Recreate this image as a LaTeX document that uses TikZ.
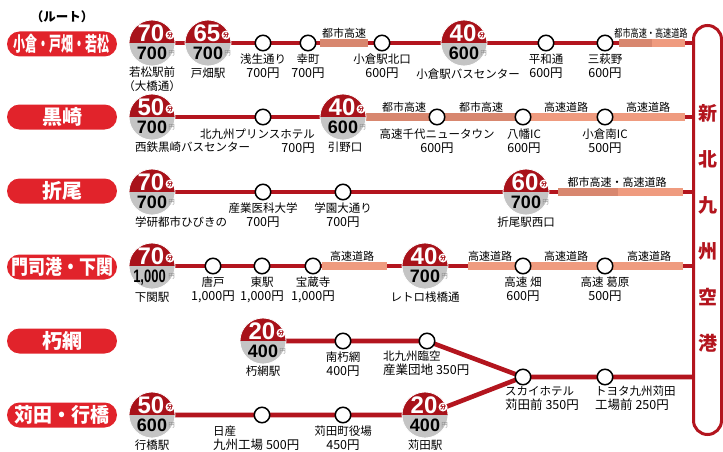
\documentclass[tikz,border=0pt]{standalone}
\usepackage{fontspec}
\setmainfont{Liberation Sans}
\newfontfamily\jp{Noto Sans CJK JP}
\newfontfamily\numf{Liberation Sans}
\usetikzlibrary{calc}
\definecolor{rline}{HTML}{B3151E}
\definecolor{pillred}{HTML}{E1232B}
\definecolor{btop}{HTML}{A8121A}
\definecolor{bgray}{HTML}{C4C4C4}
\definecolor{hwa}{HTML}{D8876F}
\definecolor{hwb}{HTML}{EF9B7F}
\pgfdeclarelayer{bg}
\pgfsetlayers{bg,main}
\tikzset{
 route/.style={rline, line width=4.6pt, line join=round},
 hwA/.style={hwa, line width=7.5pt},
 hwB/.style={hwb, line width=7.5pt},
 stn/.style={circle, draw=black, fill=white, line width=1.5pt, minimum size=15.5pt, inner sep=0pt},
 lbl/.style={font=\jp\fontsize{11.5}{13}\selectfont, text=black, inner sep=0pt, text height=9.5pt, text depth=2pt},
 lblb/.style={font=\jp\fontsize{12.5}{13}\selectfont, text=black, inner sep=0pt, text height=9.5pt, text depth=2pt},
 hwl/.style={font=\jp\fontsize{11}{12}\selectfont, text=black, inner sep=0pt},
 pill/.style={fill=pillred, rounded corners=12.5pt, minimum width=110pt, minimum height=25pt, inner sep=0pt, text=white, font=\jp\bfseries\fontsize{20}{20}\selectfont},
 badge/.style={circle, minimum size=46pt, inner sep=0pt, fill=bgray, draw=white, line width=0.8pt,
   path picture={\fill[btop] (path picture bounding box.west) rectangle (path picture bounding box.north east);}},
 btime/.style={font=\numf\bfseries\fontsize{24}{24}\selectfont, text=white, inner sep=0pt},
 bfare/.style={font=\numf\bfseries\fontsize{18}{18}\selectfont, text=black, inner sep=0pt},
 bfun/.style={circle, fill=white, inner sep=0pt, minimum size=9pt, font=\jp\bfseries\fontsize{6}{6}\selectfont, text=btop},
 byen/.style={font=\jp\fontsize{6.5}{6.5}\selectfont, text=black!45, inner sep=0pt},
 aptbox/.style={draw=rline, line width=3pt, fill=white, rounded corners=14pt, minimum width=28pt, minimum height=409pt, inner sep=0pt},
 aptc/.style={font=\jp\bfseries\fontsize{19}{19}\selectfont, text=rline, inner sep=0pt},
}
\newcommand\bdg[7]{%
 \node[badge] (#1) at (#2) {};
 \node[btime] (#1t) at ([xshift=-1pt,yshift=10pt]#1.center) {#3};
 \node[bfun] (#1m) at ([xshift=18pt,yshift=8pt]#1.center) {分};
 \node[bfare] (#1f) at ([xshift=#6,yshift=#7]#1.center) {\scalebox{#5}[1]{#4}};
 \node[byen] (#1y) at ([xshift=19.5pt,yshift=-10pt]#1.center) {円};
}
\newcommand\twol[6]{%
 \node[lbl, anchor=#2] (#1a) at (#3,#4) {#5};
 \node[lblb, anchor=#2] (#1b) at (#3,#4+13.5) {#6};
}
\begin{document}
\begin{tikzpicture}[x=1pt,y=-1pt]
\useasboundingbox (0,0) rectangle (723,452);

% airport capsule
\node[aptbox] (apt) at (707.5,230) {};
\node[aptc] (ap1) at (708,113) {新};
\node[aptc] (ap2) at (708,159) {北};
\node[aptc] (ap3) at (708,205) {九};
\node[aptc] (ap4) at (708,251) {州};
\node[aptc] (ap5) at (708,297) {空};
\node[aptc] (ap6) at (708,343) {港};

% route pills
\node[font=\jp\bfseries\fontsize{12.5}{12.5}\selectfont, inner sep=0pt] (rt) at (62,17) {（ルート）};
\node[pill] (p1) at (62,44) {\scalebox{0.6}[1]{小倉・戸畑・若松}};
\node[pill] (p2) at (62,117) {黒崎};
\node[pill] (p3) at (62,191) {折尾};
\node[pill] (p4) at (62,267) {\scalebox{0.85}[1]{門司港・下関}};
\node[pill] (p5) at (62,341) {朽網};
\node[pill] (p6) at (62,415) {\scalebox{0.95}[1]{苅田・行橋}};

% ---------- Row 1 ----------
\bdg{r1a}{152,43}{70}{700}{1}{0pt}{-10pt}
\bdg{r1b}{208,43}{65}{700}{1}{0pt}{-10pt}
\node[stn] (r1c) at (263,43) {};
\node[stn] (r1d) at (308,43) {};
\node[stn] (r1e) at (382,43) {};
\bdg{r1f}{464,43}{40}{600}{1}{0pt}{-10pt}
\node[stn] (r1g) at (546,43) {};
\node[stn] (r1h) at (605,43) {};
\coordinate (r1end) at (apt.west |- r1a.center);
\coordinate (h1a) at (320,43);
\coordinate (h1b) at (368,43);
\coordinate (h1c) at (619,43);
\coordinate (h1d) at (652,43);
\coordinate (h1e) at (685,43);
\twol{l1c}{center}{263}{60}{浅生通り}{700円}
\twol{l1d}{center}{308}{60}{幸町}{700円}
\twol{l1e}{center}{382}{60}{小倉駅北口}{600円}
\twol{l1g}{center}{546}{60}{平和通}{600円}
\twol{l1h}{center}{605}{60}{三萩野}{600円}
\node[lbl] (l1aa) at (152,73) {若松駅前};
\node[lbl] (l1ab) at (152,86.5) {（大橋通）};
\node[lbl] (l1b) at (208,74) {戸畑駅};
\node[lbl] (l1f) at (468,75) {小倉駅バスセンター};
\node[hwl] (h1l1) at (344,33) {都市高速};
\node[hwl] (h1l2) at (651,33) {\scalebox{0.74}[1]{都市高速・高速道路}};

% ---------- Row 2 ----------
\bdg{r2a}{152,117}{50}{700}{1}{0pt}{-10pt}
\node[stn] (r2b) at (263,117) {};
\bdg{r2c}{343,117}{40}{600}{1}{0pt}{-10pt}
\node[stn] (r2d) at (437,117) {};
\node[stn] (r2e) at (523,117) {};
\node[stn] (r2f) at (605,117) {};
\coordinate (r2end) at (apt.west |- r2a.center);
\coordinate (h2e) at (685,117);
\node[lbl, anchor=west] (l2a) at (135,148) {西鉄黒崎バスセンター};
\twol{l2b}{east}{315}{135}{北九州プリンスホテル}{700円}
\node[lbl] (l2c) at (345,148) {引野口};
\twol{l2d}{center}{437}{135}{高速千代ニュータウン}{600円}
\twol{l2e}{center}{524}{135}{八幡IC}{600円}
\twol{l2f}{center}{605}{135}{小倉南IC}{500円}
\node[hwl] (h2l1) at (404,107) {都市高速};
\node[hwl] (h2l2) at (481,107) {都市高速};
\node[hwl] (h2l3) at (566,107) {高速道路};
\node[hwl] (h2l4) at (648,107) {高速道路};

% ---------- Row 3 ----------
\bdg{r3a}{152,192}{70}{700}{1}{0pt}{-10pt}
\node[stn] (r3b) at (263,192) {};
\node[stn] (r3c) at (343,192) {};
\bdg{r3d}{526,192}{60}{700}{1}{0pt}{-10pt}
\coordinate (r3end) at (apt.west |- r3a.center);
\coordinate (h3a) at (558,192);
\coordinate (h3b) at (618,192);
\coordinate (h3c) at (683,192);
\node[lbl, anchor=west] (l3a) at (135,223) {学研都市ひびきの};
\twol{l3b}{center}{263}{209}{産業医科大学}{700円}
\twol{l3c}{center}{343}{209}{学園大通り}{700円}
\node[lbl] (l3d) at (526,223) {折尾駅西口};
\node[hwl] (h3l1) at (617,182) {都市高速・高速道路};

% ---------- Row 4 ----------
\bdg{r4a}{152,266}{70}{1,000}{0.72}{-2.5pt}{-12pt}
\node[stn] (r4b) at (213,266) {};
\node[stn] (r4c) at (262,266) {};
\node[stn] (r4d) at (313,266) {};
\bdg{r4e}{425,266}{40}{700}{1}{0pt}{-10pt}
\node[stn] (r4f) at (523,266) {};
\node[stn] (r4g) at (605,266) {};
\coordinate (r4end) at (apt.west |- r4a.center);
\coordinate (h4a) at (322,266);
\coordinate (h4b) at (387,266);
\coordinate (h4c) at (468,266);
\coordinate (h4d) at (683,266);
\node[lbl] (l4a) at (152,298) {下関駅};
\twol{l4b}{center}{213}{283}{唐戸}{1,000円}
\twol{l4c}{center}{262}{283}{東駅}{1,000円}
\twol{l4d}{center}{313}{283}{宝蔵寺}{1,000円}
\node[lbl] (l4e) at (425,298) {レトロ桟橋通};
\twol{l4f}{center}{523}{283}{高速 畑}{600円}
\twol{l4g}{center}{605}{283}{高速 葛原}{500円}
\node[hwl] (h4l1) at (352,256) {高速道路};
\node[hwl] (h4l2) at (490,256) {高速道路};
\node[hwl] (h4l3) at (566,256) {高速道路};
\node[hwl] (h4l4) at (649,256) {高速道路};

% ---------- Row 5 ----------
\bdg{r5a}{263,341}{20}{400}{1}{0pt}{-10pt}
\node[stn] (r5b) at (343,341) {};
\node[stn] (r5c) at (427,341) {};
\node[stn] (sky) at (523,377) {};
\node[stn] (toy) at (605,377) {};
\coordinate (r5end) at (apt.west |- sky.center);
\node[lbl] (l5a) at (263,372) {朽網駅};
\twol{l5b}{center}{343}{358}{南朽網}{400円}
\twol{l5c}{west}{383}{357}{北九州臨空}{産業団地 350円}
\twol{l5d}{west}{505}{392}{スカイホテル}{苅田前 350円}
\twol{l5e}{west}{595}{392}{トヨタ九州苅田}{工場前 250円}

% ---------- Row 6 ----------
\bdg{r6a}{152,415}{50}{600}{1}{0pt}{-10pt}
\node[stn] (r6b) at (262,415) {};
\node[stn] (r6c) at (343,415) {};
\bdg{r6d}{425,415}{20}{400}{1}{0pt}{-10pt}
\node[lbl] (l6a) at (152,446) {行橋駅};
\twol{l6b}{west}{213}{432}{日産}{九州工場 500円}
\twol{l6c}{center}{343}{432}{苅田町役場}{450円}
\node[lbl] (l6d) at (425,446) {苅田駅};

% ---------- connectors (behind) ----------
\begin{pgfonlayer}{bg}
\draw[route] (r1a.center) -- (r1end);
\draw[hwA] (h1a) -- (h1b);
\draw[hwA] (h1c) -- (h1d);
\draw[hwB] (h1d) -- (h1e);

\draw[route] (r2a.center) -- (r2end);
\draw[hwA] (r2c.center) -- (r2e.center);
\draw[hwB] (r2e.center) -- (h2e);

\draw[route] (r3a.center) -- (r3end);
\draw[hwA] (h3a) -- (h3b);
\draw[hwB] (h3b) -- (h3c);

\draw[route] (r4a.center) -- (r4end);
\draw[hwB] (h4a) -- (h4b);
\draw[hwB] (h4c) -- (h4d);

\draw[route] (r5a.center) -- (r5b.center) -- (r5c.center) -- (sky.center) -- (toy.center) -- (r5end);
\draw[route] (r6a.center) -- (r6b.center) -- (r6c.center) -- (r6d.center) -- (sky.center);
\end{pgfonlayer}
\end{tikzpicture}
\end{document}
